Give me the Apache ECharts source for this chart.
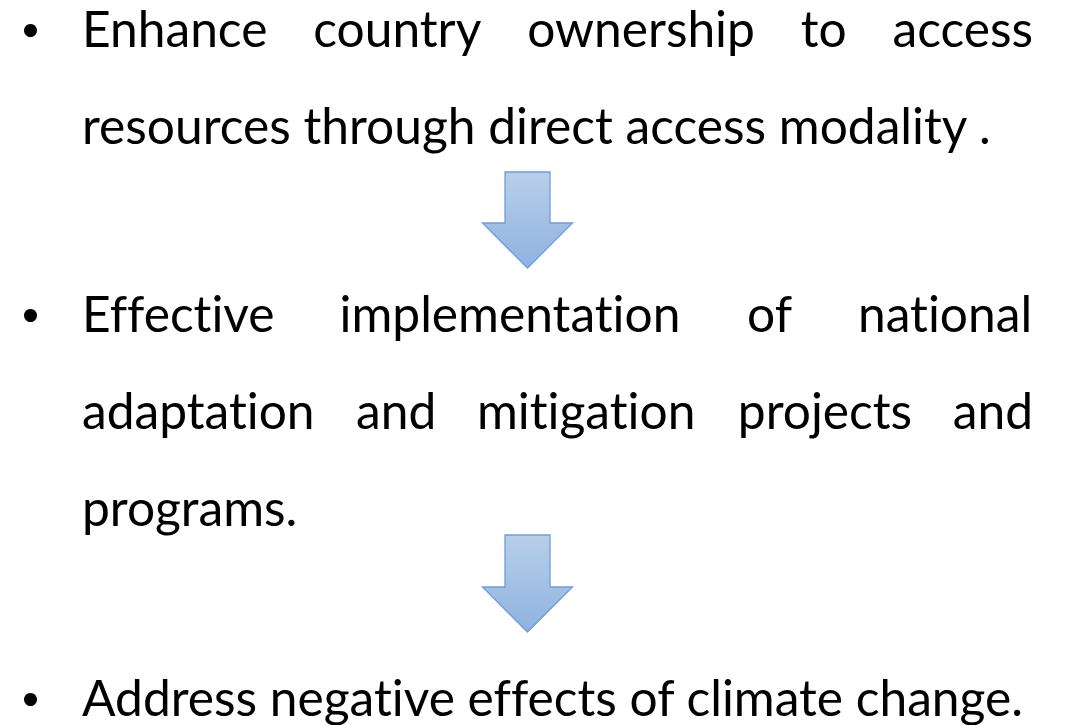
<!DOCTYPE html>
<html>
<head>
<meta charset="utf-8">
<script src="https://cdn.jsdelivr.net/npm/echarts@6/dist/echarts.min.js"></script>
<style>
html,body{margin:0;padding:0;background:#fff;}
#chart{width:1066px;height:725px;}
#chart text, #chart tspan{font-variant-ligatures:none !important;font-feature-settings:"liga" 0,"clig" 0 !important;}
</style>
</head>
<body>
<div id="chart"></div>
<script>
// Text content (each entry is one rendered line; justify flag = full-width justified line)
const lines = [
  "Enhance country ownership to access",
  "resources through direct access modality .",
  "Effective implementation of national",
  "adaptation and mitigation projects and",
  "programs.",
  "Address negative effects of climate change."
];
const justified = [true, false, true, true, false, false];
const bulletLines = [0, 2, 5];
const baselines = [48, 145, 333, 430, 527, 717];
const arrows = [{top: 172, neck: 223, tip: 268}, {top: 535, neck: 587, tip: 632}];

const FONT_FAMILY = 'Lato, "Open Sans", sans-serif';
const LEFT = 82, RIGHT = 1033;

const cv = document.createElement('canvas').getContext('2d');
function measure(t, size) { cv.font = size + 'px ' + FONT_FAMILY; return cv.measureText(t).width; }
// choose font size so that the left-aligned reference line spans the same width
const fontSize = Math.round(100 * 911 / measure(lines[1], 100) * 10) / 10;
const baseShift = fontSize * 0.11;

const graphic = [];
const textEl = (t, x, y) => ({
  type: 'text', x: x, y: y + baseShift,
  style: { text: t, font: fontSize + 'px ' + FONT_FAMILY, fill: '#000', verticalAlign: 'bottom', align: 'left' }
});

lines.forEach((ln, i) => {
  const y = baselines[i];
  if (justified[i]) {
    const words = ln.split(' ');
    const ws = words.map(w => measure(w, fontSize));
    const total = ws.reduce((a, b) => a + b, 0);
    const gap = (RIGHT - LEFT - total) / (words.length - 1);
    let x = LEFT;
    words.forEach((w, k) => { graphic.push(textEl(w, x, y)); x += ws[k] + gap; });
  } else {
    graphic.push(textEl(ln, LEFT, y));
  }
});
bulletLines.forEach(i => {
  graphic.push({ type: 'circle', shape: { cx: 30.5, cy: baselines[i] - 17.5, r: 6.5 }, style: { fill: '#000' } });
});
arrows.forEach(a => {
  const cx = 527.5, sh = 22.5, hw = 45;
  graphic.push({
    type: 'polygon',
    shape: { points: [[cx - sh, a.top], [cx + sh, a.top], [cx + sh, a.neck], [cx + hw, a.neck], [cx, a.tip], [cx - hw, a.neck], [cx - sh, a.neck]] },
    style: {
      fill: new echarts.graphic.LinearGradient(0, 0, 0, 1, [{ offset: 0, color: '#b8cfea' }, { offset: 1, color: '#8fb2e0' }]),
      stroke: '#6f9dd6', lineWidth: 1.3
    }
  });
});

const chart = echarts.init(document.getElementById('chart'), null, { renderer: 'svg' });
chart.setOption({ backgroundColor: '#fff', animation: false, graphic: graphic });
</script>
</body>
</html>
